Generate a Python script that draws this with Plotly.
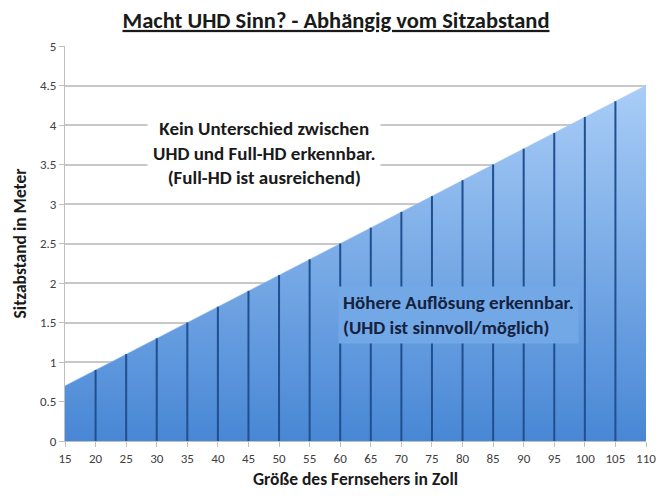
import plotly.graph_objects as go

# Data
screen_size = [15, 20, 25, 30, 35, 40, 45, 50, 55, 60, 65, 70, 75, 80, 85, 90, 95, 100, 105, 110]
distance = [0.7, 0.9, 1.1, 1.3, 1.5, 1.7, 1.9, 2.1, 2.3, 2.5, 2.7, 2.9, 3.1, 3.3, 3.5, 3.7, 3.9, 4.1, 4.3, 4.5]
y_ticks = [0, 0.5, 1, 1.5, 2, 2.5, 3, 3.5, 4, 4.5, 5]

title_text = "Macht UHD Sinn? - Abhängig vom Sitzabstand"
x_title = "Größe des Fernsehers in Zoll"
y_title = "Sitzabstand in Meter"
note_top = "Kein Unterschied zwischen<br>UHD und Full-HD erkennbar.<br>(Full-HD ist ausreichend)"
note_bottom = "Höhere Auflösung erkennbar.<br>(UHD ist sinnvoll/möglich)"

FONT = "Carlito, Lato, 'Open Sans', sans-serif"

fig = go.Figure()

fig.add_trace(go.Scatter(
    x=screen_size, y=distance, mode="lines",
    line=dict(width=0.5, color="#a6cbf5"),
    fill="tozeroy",
    fillgradient=dict(type="vertical",
                      colorscale=[[0, "#4887d5"], [1, "#a9cdf7"]]),
    hoverinfo="skip", showlegend=False,
))

# vertical drop lines at each interior category
vx, vy = [], []
for xv, yv in zip(screen_size[1:-1], distance[1:-1]):
    vx += [xv, xv, None]
    vy += [0, yv, None]
fig.add_trace(go.Scatter(
    x=vx, y=vy, mode="lines",
    line=dict(width=2, color="#1f4f8f"),
    hoverinfo="skip", showlegend=False,
))

fig.add_annotation(
    x=47.5, y=3.65, xref="x", yref="y", text=note_top, showarrow=False,
    font=dict(family=FONT, size=19, color="#1a1a1a", weight="bold"),
    bgcolor="white", borderpad=5, align="center",
)
fig.add_annotation(
    x=59.7, y=1.6, xref="x", yref="y", text=note_bottom, showarrow=False,
    xanchor="left",
    font=dict(family=FONT, size=19, color="#15223f", weight="bold"),
    bgcolor="#72a8e6", borderpad=4, align="left",
)

fig.update_layout(
    width=668, height=500,
    margin=dict(l=65, r=18, t=46, b=59),
    paper_bgcolor="white", plot_bgcolor="white",
    title=dict(text="<u>" + title_text + "</u>", x=0.503, xanchor="center",
               y=0.96, yanchor="middle",
               font=dict(family=FONT, size=22.5, color="#1a1a1a", weight="bold")),
    font=dict(family=FONT),
    xaxis=dict(
        range=[15, 110], tickmode="array", tickvals=screen_size,
        ticktext=[str(v) for v in screen_size],
        ticks="outside", ticklen=5, tickcolor="#bfbfbf",
        showgrid=False, zeroline=False,
        showline=True, linecolor="#bfbfbf",
        tickfont=dict(family=FONT, size=13, color="#404040"),
        title=dict(text=x_title, standoff=8,
                   font=dict(family=FONT, size=17.5, color="#1a1a1a", weight="bold")),
    ),
    yaxis=dict(
        range=[0, 5], tickmode="array", tickvals=y_ticks,
        ticktext=[str(v) for v in y_ticks],
        ticks="outside", ticklen=5, tickcolor="#bfbfbf",
        showgrid=True, gridcolor="#c8c8c8", gridwidth=1.5, zeroline=False,
        showline=True, linecolor="#bfbfbf",
        tickfont=dict(family=FONT, size=13, color="#404040"),
        title=dict(text=y_title, standoff=8,
                   font=dict(family=FONT, size=17.5, color="#1a1a1a", weight="bold")),
    ),
)

fig.write_html("out.html")
